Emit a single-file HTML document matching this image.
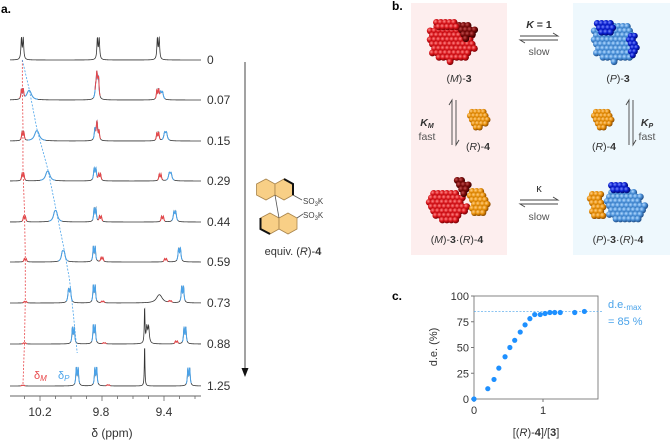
<!DOCTYPE html>
<html><head><meta charset="utf-8"><style>
html,body{margin:0;padding:0;background:#fff;}
svg{display:block;font-family:"Liberation Sans",Arial,sans-serif;}
</style></head><body>
<svg id="fig" width="670" height="440" viewBox="0 0 670 440">
<defs>
<radialGradient id="gr" cx="35%" cy="35%" r="65%"><stop offset="0" stop-color="#ff8a8a"/><stop offset="0.5" stop-color="#d8141a"/><stop offset="1" stop-color="#7a0005"/></radialGradient>
<radialGradient id="gdr" cx="35%" cy="35%" r="65%"><stop offset="0" stop-color="#c05050"/><stop offset="0.5" stop-color="#7a0a0a"/><stop offset="1" stop-color="#3a0000"/></radialGradient>
<radialGradient id="gb" cx="35%" cy="35%" r="65%"><stop offset="0" stop-color="#b8dcff"/><stop offset="0.5" stop-color="#4a90d8"/><stop offset="1" stop-color="#1f4f8a"/></radialGradient>
<radialGradient id="gdb" cx="35%" cy="35%" r="65%"><stop offset="0" stop-color="#7a8cff"/><stop offset="0.5" stop-color="#0a1fd0"/><stop offset="1" stop-color="#000a70"/></radialGradient>
<radialGradient id="go" cx="35%" cy="35%" r="65%"><stop offset="0" stop-color="#ffd08a"/><stop offset="0.5" stop-color="#e8900a"/><stop offset="1" stop-color="#8a4a00"/></radialGradient>
</defs>

<text x="1" y="13" font-size="12" font-weight="bold">a.</text>
<text x="392" y="10" font-size="12" font-weight="bold">b.</text>
<text x="392" y="300" font-size="12" font-weight="bold">c.</text>

<g id="nmr"></g>
<g>
<line x1="10" y1="396" x2="201" y2="396" stroke="#666" stroke-width="1"/>
<g id="nmrticks"></g>
<text x="40" y="416" font-size="12" text-anchor="middle" fill="#333">10.2</text>
<text x="101" y="416" font-size="12" text-anchor="middle" fill="#333">9.8</text>
<text x="164" y="416" font-size="12" text-anchor="middle" fill="#333">9.4</text>
<text x="112" y="437" font-size="12" text-anchor="middle" fill="#333">δ (ppm)</text>
</g>
<g id="eqlabels"></g>
<g>
<line x1="245" y1="62" x2="245" y2="368" stroke="#444" stroke-width="1"/>
<polygon points="241.5,368 248.5,368 245,377" fill="#111"/>
</g>
<text x="34" y="379" font-size="11" fill="#e8474a">δ<tspan font-size="8" dy="2" font-style="italic">M</tspan></text>
<text x="58" y="379" font-size="11" fill="#4aa3ea">δ<tspan font-size="8" dy="2" font-style="italic">P</tspan></text>

<g fill="#f8cf86" stroke="#a8844c" stroke-width="0.8">
<polygon points="266,179 275,184 275,195 266,200 256.5,195 256.5,184"/>
<polygon points="284,179 293,184 293,195 284,200 275,195 275,184"/>
<polygon points="270,213 279,218 279,229 270,234 260.5,229 260.5,218"/>
<polygon points="288,213 297,218 297,229 288,234 279,229 279,218"/>
<line x1="275" y1="195" x2="279" y2="218" stroke="#555"/>
<line x1="293" y1="195" x2="302" y2="200" stroke="#555"/>
<line x1="297" y1="218" x2="303" y2="214" stroke="#555"/>
<polyline points="284,179 293,184 293,195" fill="none" stroke="#111" stroke-width="2"/>
<polyline points="260.5,218 260.5,229 270,234" fill="none" stroke="#111" stroke-width="2"/>
</g>
<text x="303" y="204" font-size="8" fill="#444">SO<tspan font-size="6" dy="2">3</tspan><tspan dy="-2">K</tspan></text>
<text x="303" y="218" font-size="8" fill="#444">SO<tspan font-size="6" dy="2">3</tspan><tspan dy="-2">K</tspan></text>
<text x="293" y="255" font-size="11" text-anchor="middle" fill="#333">equiv. (<tspan font-style="italic">R</tspan>)-<tspan font-weight="bold">4</tspan></text>

<rect x="411" y="3" width="96" height="252" fill="#fdeeee"/>
<rect x="573" y="3" width="97" height="252" fill="#eef8fd"/>
<g id="mols"></g>
<g font-size="10.5" fill="#333" text-anchor="middle">
<text x="459" y="82">(<tspan font-style="italic">M</tspan>)-<tspan font-weight="bold">3</tspan></text>
<text x="618" y="82">(<tspan font-style="italic">P</tspan>)-<tspan font-weight="bold">3</tspan></text>
<text x="478" y="150">(<tspan font-style="italic">R</tspan>)-<tspan font-weight="bold">4</tspan></text>
<text x="604" y="150">(<tspan font-style="italic">R</tspan>)-<tspan font-weight="bold">4</tspan></text>
<text x="457" y="243">(<tspan font-style="italic">M</tspan>)-<tspan font-weight="bold">3</tspan>·(<tspan font-style="italic">R</tspan>)-<tspan font-weight="bold">4</tspan></text>
<text x="618" y="243">(<tspan font-style="italic">P</tspan>)-<tspan font-weight="bold">3</tspan>·(<tspan font-style="italic">R</tspan>)-<tspan font-weight="bold">4</tspan></text>
<text x="539" y="28" font-weight="bold"><tspan font-style="italic">K</tspan> = 1</text>
<text x="539" y="55" fill="#555">slow</text>
<text x="539" y="192" font-size="11">κ</text>
<text x="539" y="220" fill="#555">slow</text>
<text x="427" y="126" font-weight="bold" font-style="italic">K<tspan font-size="7" dy="2">M</tspan></text>
<text x="427" y="140" fill="#555">fast</text>
<text x="647" y="126" font-weight="bold" font-style="italic">K<tspan font-size="7" dy="2">P</tspan></text>
<text x="647" y="140" fill="#555">fast</text>
</g>
<g stroke="#444" stroke-width="0.9" fill="none">
<path d="M520,36 H558 l-5,-3"/><path d="M558,40 H520 l5,3"/>
<path d="M520,200 H558 l-5,-3"/><path d="M558,204 H520 l5,3"/>
<path d="M452,145 V100 l-3,5"/><path d="M456,100 V145 l3,-5"/>
<path d="M629,145 V100 l-3,5"/><path d="M633,100 V145 l3,-5"/>
</g>

<g id="chart"></g>
<text x="608" y="308" font-size="11" fill="#4aa3ea">d.e.<tspan font-size="8" dy="2">max</tspan></text>
<text x="608" y="325" font-size="11" fill="#4aa3ea">= 85 %</text>
</svg>
<script>
// ===== Panel c data =====
const xVals=[0,0.2,0.29,0.36,0.45,0.52,0.59,0.67,0.74,0.81,0.88,0.96,1.03,1.1,1.17,1.25,1.46,1.6];
const deVals=[0,10,19,30,41,50,57,65,72,78,82,82,83,84,84,84,84,85];
const yTicks=[0,25,50,75,100];
const xTicks=[0,1];
const deMax=85;
// ===== Panel a data =====
const equivLabels=["0","0.07","0.15","0.29","0.44","0.59","0.73","0.88","1.25"];
// peaks per trace: [ppm, height, colour(k/r/b), width]
const nmrPeaks=[
 [[10.314,40,"k",0.6],[9.824,40,"k",0.6],[9.437,40,"k",0.6]],
 [[10.314,18,"r",0.6],[10.27,11,"b",2.2],[9.828,34,"r",0.6],[9.835,20,"b",0.8],[9.44,18,"r",0.6],[9.415,13,"b",0.9]],
 [[10.31,16,"r",0.6],[10.22,12,"b",2.2],[9.825,18,"r",0.6],[9.84,22,"b",0.7],[9.44,15,"r",0.6],[9.39,15,"b",1.0]],
 [[10.31,13,"r",0.6],[10.15,12,"b",1.9],[9.815,12,"r",0.6],[9.845,22,"b",0.7],[9.425,12,"r",0.6],[9.36,14,"b",1.0]],
 [[10.30,10,"r",0.6],[10.10,15,"b",1.6],[9.81,10,"r",0.6],[9.845,25,"b",0.6],[9.41,10,"r",0.6],[9.33,18,"b",0.8]],
 [[10.295,6,"r",0.6],[10.05,17,"b",1.2],[9.80,8,"r",0.6],[9.85,28,"b",0.6],[9.39,6,"r",0.6],[9.30,24,"b",0.7]],
 [[10.295,3,"r",0.6],[10.01,24,"b",0.8],[9.795,3,"r",0.6],[9.85,32,"b",0.6],[9.43,9,"k",3.0],[9.36,3,"r",0.6],[9.28,30,"b",0.6]],
 [[10.30,2,"r",0.6],[9.985,30,"b",0.6],[9.785,2,"r",0.6],[9.85,34,"b",0.6],[9.525,34,"k",0.4],[9.505,30,"k",0.8],[9.32,5,"r",0.6],[9.265,30,"b",0.6]],
 [[10.31,1.5,"r",0.6],[9.96,33,"b",0.6],[9.76,2,"r",0.6],[9.84,33,"b",0.6],[9.525,40,"k",0.35],[9.24,32,"b",0.6]]
];
const baselines=[60,100,141,181,222,262,303,344,386];

const NS="http://www.w3.org/2000/svg";
function mk(tag,attrs,parent){const e=document.createElementNS(NS,tag);for(const k in attrs)e.setAttribute(k,attrs[k]);parent.appendChild(e);return e;}
const colMap={k:"#222",r:"#e8474a",b:"#4aa3ea"};
function ppmX(p){return 40+(10.2-p)*155;}
const nmr=document.getElementById("nmr");
function peakVal(pk,x){const c=ppmX(pk[0]);let s=0;const g=pk[3];const d=pk[2]==="k"&&g<0.5?0:0.9;
 for(const o of [-d,d]){const u=(x-c-o)/g;s+=1/(1+u*u);}return pk[1]*s/2*(g<1?1.05:1);}
nmrPeaks.forEach((peaks,i)=>{
 const b=baselines[i];
 let pts=[];
 for(let x=10;x<=201;x+=0.25){let y=0;peaks.forEach(p=>y+=peakVal(p,x));pts.push(x.toFixed(2)+","+(b-y).toFixed(2));}
 const tr=mk("polyline",{points:pts.join(" "),fill:"none",stroke:"#333","stroke-width":0.8},nmr);
 
 
 const order=peaks.filter(p=>p[2]==="b").concat(peaks.filter(p=>p[2]==="r"));
 order.forEach(p=>{const c=ppmX(p[0]);const w=Math.max(2.6,p[3]*4);let ps=[];
  for(let x=c-w;x<=c+w;x+=0.25){let y=0;peaks.forEach(q=>y+=peakVal(q,x));ps.push(x.toFixed(2)+","+(b-y).toFixed(2));}
  const pe=mk("polyline",{points:ps.join(" "),fill:"none",stroke:colMap[p[2]],"stroke-width":1},nmr);
  
  
 });
 const t=mk("text",{x:207,y:b+4,"font-size":12,fill:"#333"},document.getElementById("eqlabels"));
 t.textContent=equivLabels[i];
 
 
});
(function(){
 let r=[],bl=[];
 nmrPeaks.forEach((peaks,i)=>{const b=baselines[i];
  const rp=peaks.find(p=>p[2]==="r"&&p[0]>10.1);const bp=peaks.find(p=>p[2]==="b"&&p[0]>9.9);
  const k0=peaks.find(p=>p[2]==="k"&&p[0]>10.1);
  if(k0){r.push(ppmX(k0[0])+","+b);bl.push(ppmX(k0[0])+","+b);}
  if(rp)r.push(ppmX(rp[0])+","+(b-rp[1]));
  if(bp)bl.push(ppmX(bp[0])+","+(b-bp[1]));
 });
 const l1=mk("polyline",{points:r.join(" "),fill:"none",stroke:"#e8474a","stroke-width":0.8,"stroke-dasharray":"2,1.5"},nmr);
 
 
 const l2=mk("polyline",{points:bl.join(" "),fill:"none",stroke:"#4aa3ea","stroke-width":0.8,"stroke-dasharray":"2,1.5"},nmr);
 
 
})();
const tk=document.getElementById("nmrticks");
for(let k=0;k<=12;k++){const p=10.3-k*0.1;const x=ppmX(p);if(x<10||x>201)continue;
 mk("line",{x1:x,y1:396,x2:x,y2:(k%4===1?401:399),stroke:"#666","stroke-width":0.8},tk);}

const mols=document.getElementById("mols");
function blob(cx,cy,rx,ry,fill,r){for(let yy=-ry;yy<=ry;yy+=r*1.3){for(let xx=-rx;xx<=rx;xx+=r*1.3){
 if((xx*xx)/(rx*rx)+(yy*yy)/(ry*ry)>1)continue;const off=((Math.round(yy/(r*1.3)))%2)*r*0.65;
 mk("circle",{cx:cx+xx+off,cy:cy+yy,r:r,fill:fill},mols);}}}
blob(451,42,23,20,"url(#gr)",3.4);blob(466,30,9,9,"url(#gdr)",3.4);blob(444,24,12,6,"url(#gr)",3.4);
blob(614,42,22,20,"url(#gb)",3.4);blob(605,27,10,8,"url(#gdb)",3.4);blob(632,44,5,12,"url(#gdb)",3);
blob(478,118,10,10,"url(#go)",3);blob(602,118,10,10,"url(#go)",3);
blob(447,205,20,16,"url(#gr)",3.4);blob(462,185,7,9,"url(#gdr)",3.4);blob(478,202,10,15,"url(#go)",3.3);
blob(625,205,20,17,"url(#gb)",3.4);blob(617,187,10,6,"url(#gdb)",3.4);blob(596,205,8,15,"url(#go)",3.3);

const ch=document.getElementById("chart");
const X0=474,X1=598,Y0=399,Y1=296;
function sx(v){return X0+v*69;}
function sy(v){return Y0-(v/100)*(Y0-Y1);}
mk("rect",{x:X0,y:Y1,width:X1-X0,height:Y0-Y1,fill:"none",stroke:"#777","stroke-width":0.9},ch);
yTicks.forEach(v=>{mk("line",{x1:X0-3,y1:sy(v),x2:X0,y2:sy(v),stroke:"#777"},ch);
 const t=mk("text",{x:X0-5,y:sy(v)+4,"font-size":11,"text-anchor":"end",fill:"#333"},ch);t.textContent=v;
 
 });
xTicks.forEach(v=>{mk("line",{x1:sx(v),y1:Y0,x2:sx(v),y2:Y0+3,stroke:"#777"},ch);
 const t=mk("text",{x:sx(v),y:Y0+15,"font-size":11,"text-anchor":"middle",fill:"#333"},ch);t.textContent=v;
 
 });
const dl=mk("line",{x1:X0,y1:sy(deMax),x2:603,y2:sy(deMax),stroke:"#4aa3ea","stroke-width":0.7,"stroke-dasharray":"2,1.5"},ch);


xVals.forEach((v,i)=>{const c=mk("circle",{cx:sx(v),cy:sy(deVals[i]),r:2.6,fill:"#1e90ff"},ch);
 
 });
const yt=mk("text",{x:0,y:0,"font-size":11,"text-anchor":"middle",fill:"#333",transform:"translate(437,347) rotate(-90)"},ch);
yt.textContent="d.e. (%)";


const xt=mk("text",{x:536,y:436,"font-size":11,"text-anchor":"middle",fill:"#333"},ch);
xt.innerHTML='[(<tspan font-style="italic">R</tspan>)-<tspan font-weight="bold">4</tspan>]/[<tspan font-weight="bold">3</tspan>]';


</script>
</body></html>
